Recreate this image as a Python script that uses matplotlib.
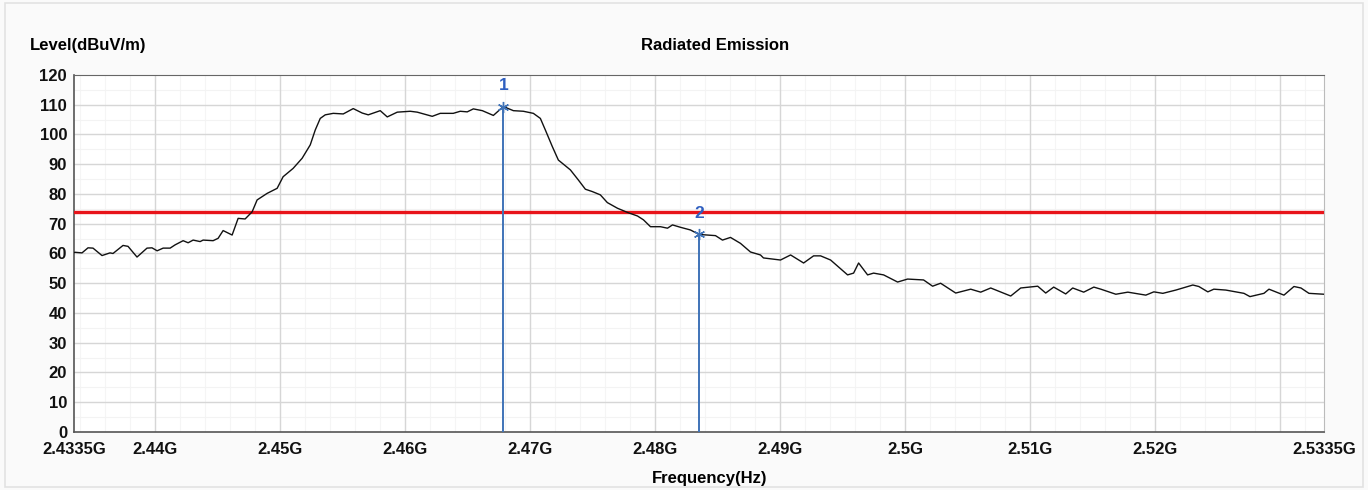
import numpy as np
import matplotlib
matplotlib.use("Agg")
import matplotlib.pyplot as plt
from matplotlib.ticker import MultipleLocator
from matplotlib.patches import Rectangle

# trace: frequency in MHz, level in dBuV/m
freq_mhz = [
    2433.50, 2433.58, 2434.14, 2434.62, 2435.02, 2435.74, 2436.38, 2436.62, 2437.42, 2437.82,
    2438.54, 2439.34, 2439.74, 2440.15, 2440.63, 2441.19, 2441.59, 2442.23, 2442.63, 2443.03,
    2443.59, 2443.83, 2444.63, 2445.03, 2445.43, 2446.15, 2446.63, 2447.19, 2447.75, 2448.15,
    2448.95, 2449.75, 2450.23, 2451.03, 2451.75, 2452.40, 2452.80, 2453.20, 2453.60, 2454.24,
    2455.04, 2455.84, 2456.56, 2457.04, 2458.00, 2458.56, 2459.36, 2460.40, 2460.96, 2462.16,
    2462.80, 2463.84, 2464.40, 2464.96, 2465.45, 2466.17, 2467.05, 2467.85, 2468.65, 2469.45,
    2470.25, 2470.81, 2471.21, 2471.77, 2472.25, 2473.21, 2473.85, 2474.41, 2474.97, 2475.61,
    2476.17, 2476.98, 2477.78, 2478.58, 2479.06, 2479.62, 2480.42, 2480.98, 2481.38, 2482.02,
    2482.82, 2483.50, 2484.18, 2484.82, 2485.38, 2486.02, 2486.82, 2487.62, 2488.42, 2488.66,
    2490.02, 2490.83, 2491.87, 2492.67, 2493.23, 2494.03, 2495.39, 2495.87, 2496.27, 2496.99,
    2497.47, 2498.27, 2499.39, 2500.19, 2501.47, 2502.19, 2502.83, 2504.04, 2505.24, 2506.04,
    2506.84, 2508.44, 2509.24, 2510.60, 2511.24, 2511.88, 2512.84, 2513.40, 2514.28, 2515.09,
    2515.65, 2516.85, 2517.81, 2519.25, 2519.89, 2520.61, 2521.65, 2523.01, 2523.49, 2524.21,
    2524.69, 2525.65, 2527.10, 2527.58, 2528.70, 2529.10, 2530.30, 2531.10, 2531.66, 2532.30,
    2533.50,
]
level = [
    60.3, 60.4, 60.2, 61.9, 61.8, 59.3, 60.2, 60.0, 62.7, 62.4,
    58.8, 61.8, 61.9, 60.9, 61.8, 61.8, 62.9, 64.3, 63.6, 64.5,
    64.0, 64.5, 64.3, 65.1, 67.7, 66.2, 71.8, 71.6, 74.0, 78.0,
    80.2, 81.9, 85.8, 88.6, 92.0, 96.5, 101.5, 105.4, 106.6, 107.1,
    106.9, 108.7, 107.2, 106.6, 108.0, 105.9, 107.5, 107.8, 107.5, 106.1,
    107.1, 107.1, 107.8, 107.6, 108.6, 108.0, 106.4, 109.4, 108.0, 107.8,
    107.1, 105.4, 101.5, 95.9, 91.4, 88.1, 84.7, 81.6, 80.8, 79.7,
    77.1, 75.2, 73.8, 72.6, 71.3, 69.0, 69.0, 68.5, 69.6, 68.8,
    67.9, 66.4, 66.2, 66.0, 64.5, 65.4, 63.4, 60.5, 59.5, 58.5,
    57.8, 59.5, 56.8, 59.2, 59.2, 57.8, 52.8, 53.4, 56.8, 52.8,
    53.4, 52.8, 50.4, 51.4, 51.1, 49.0, 50.0, 46.7, 48.0, 47.0,
    48.4, 45.7, 48.4, 49.0, 46.7, 48.7, 46.4, 48.4, 47.0, 48.7,
    48.0, 46.3, 47.0, 46.0, 47.1, 46.6, 47.7, 49.4, 48.9, 47.1,
    48.0, 47.7, 46.6, 45.5, 46.6, 48.0, 46.0, 48.9, 48.4, 46.6,
    46.3,
]

limit_level = 74.0
marker_freq = [2467.85, 2483.50]
marker_level = [109.4, 66.4]
marker_names = ["1", "2"]

xtick_mhz = [2433.5, 2440, 2450, 2460, 2470, 2480, 2490, 2500, 2510, 2520, 2533.5]
xtick_labels = ["2.4335G", "2.44G", "2.45G", "2.46G", "2.47G", "2.48G",
                "2.49G", "2.5G", "2.51G", "2.52G", "2.5335G"]
grid_mhz = [2440, 2450, 2460, 2470, 2480, 2490, 2500, 2510, 2520, 2530]

plt.rcParams['font.family'] = ['Liberation Sans', 'DejaVu Sans']
plt.rcParams['font.weight'] = 'bold'

fig = plt.figure(figsize=(13.68, 4.9), dpi=100, facecolor='#fafafa')
# panel frame of the original window
fig.patches.append(Rectangle((0.004, 0.006), 0.992, 0.988, transform=fig.transFigure,
                             fill=False, edgecolor='#e2e2e2', lw=1.2))
ax = fig.add_axes([0.0541, 0.1184, 0.9137, 0.7286])
ax.set_facecolor('white')

ax.set_xlim(2433.5, 2533.5)
ax.set_ylim(0, 120)

# very faint minor grid, then major grid
for f in np.arange(2434, 2533.5, 2):
    ax.axvline(f, color='#f5f5f5', lw=0.8, zorder=0)
for v in range(5, 120, 10):
    ax.axhline(v, color='#f3f3f3', lw=0.8, zorder=0)
for f in grid_mhz:
    ax.axvline(f, color='#d6d6d6', lw=1.0, zorder=1)
for v in range(10, 120, 10):
    ax.axhline(v, color='#d6d6d6', lw=1.0, zorder=1)

ax.plot(freq_mhz, level, color='#111111', lw=1.0, zorder=4)
ax.axhline(limit_level, color='#e8141a', lw=2.4, zorder=3)

for f, v, n in zip(marker_freq, marker_level, marker_names):
    ax.plot([f, f], [0, v], color='#3f73b8', lw=1.4, zorder=5)
    ax.plot(f, v, marker=(6, 2, 0), color='#3f73b8', ms=8, mew=1.0, zorder=6)
    ax.text(f, v + 4.5, n, color='#2f5fc0', fontsize=12.5, fontweight='bold',
            ha='center', va='bottom')

ax.set_xticks(xtick_mhz)
ax.set_xticklabels(xtick_labels)
ax.yaxis.set_major_locator(MultipleLocator(10))
ax.tick_params(axis='both', length=0, labelsize=12, colors='#111111')
ax.tick_params(axis='x', pad=7)
ax.tick_params(axis='y', pad=5)

for s in ['left', 'bottom']:
    ax.spines[s].set_color('#555555')
    ax.spines[s].set_linewidth(1.2)
ax.spines['top'].set_color('#666666')
ax.spines['right'].set_color('#bbbbbb')

fig.text(0.0219, 0.908, "Level(dBuV/m)", fontsize=12, fontweight='bold', va='center')
fig.text(0.5227, 0.908, "Radiated Emission", fontsize=12, fontweight='bold',
         ha='center', va='center')
fig.text(0.519, 0.024, "Frequency(Hz)", fontsize=12, fontweight='bold',
         ha='center', va='center')

fig.savefig("out.png", dpi=100, facecolor=fig.get_facecolor())
